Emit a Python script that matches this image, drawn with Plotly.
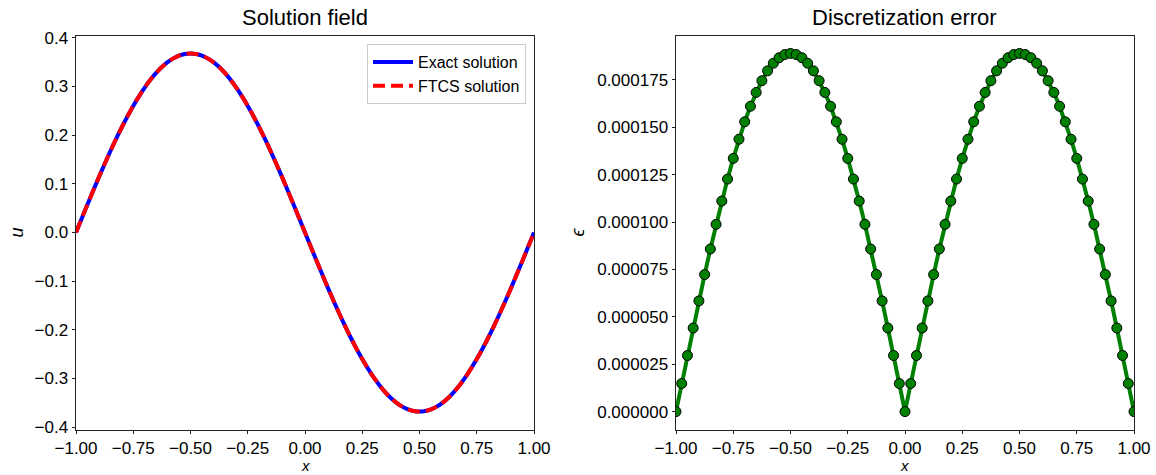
import plotly.graph_objects as go

# grid: x from -1 to 1 step 0.025 (81 points)
x_min, x_step, n_pts = -1.0, 0.025, 81
x_vals = [round(x_min + i * x_step, 3) for i in range(n_pts)]

# half-wave values (x=-1 .. 0)
u_half = [0.0, 0.0289, 0.0576, 0.0859, 0.1137, 0.1408, 0.1670, 0.1922, 0.2162, 0.2389,
          0.2601, 0.2797, 0.2976, 0.3137, 0.3278, 0.3399, 0.3499, 0.3577, 0.3634, 0.3668,
          0.3679, 0.3668, 0.3634, 0.3577, 0.3499, 0.3399, 0.3278, 0.3137, 0.2976, 0.2797,
          0.2601, 0.2389, 0.2162, 0.1922, 0.1670, 0.1408, 0.1137, 0.0859, 0.0576, 0.0289, 0.0]
u_exact = u_half + [-v for v in u_half[1:]]
u_ftcs = list(u_exact)

err_half = [0.0, 14.8, 29.6, 44.1, 58.4, 72.3, 85.8, 98.8, 111.1, 122.7,
            133.6, 143.7, 152.9, 161.1, 168.4, 174.6, 179.8, 183.8, 186.7, 188.4,
            189.0, 188.4, 186.7, 183.8, 179.8, 174.6, 168.4, 161.1, 152.9, 143.7,
            133.6, 122.7, 111.1, 98.8, 85.8, 72.3, 58.4, 44.1, 29.6, 14.8, 0.0]
err_1e6 = err_half + err_half[1:]
error = [v * 1e-6 for v in err_1e6]

left_ticks_x = [-1.0, -0.75, -0.5, -0.25, 0.0, 0.25, 0.5, 0.75, 1.0]
left_ticks_y = [-0.4, -0.3, -0.2, -0.1, 0.0, 0.1, 0.2, 0.3, 0.4]
right_ticks_y = [0.0, 0.000025, 0.00005, 0.000075, 0.0001, 0.000125, 0.00015, 0.000175]

FONT = "Liberation Sans, Arial, sans-serif"
W, H = 1156, 475
L1, R1, L2, R2 = 76, 534, 676, 1134
TOP, BOT = 35.5, 429.5

fig = go.Figure()
fig.add_trace(go.Scatter(x=x_vals, y=u_exact, mode="lines", name="Exact solution",
                         line=dict(color="blue", width=4, shape="spline"), xaxis="x", yaxis="y"))
fig.add_trace(go.Scatter(x=x_vals, y=u_ftcs, mode="lines", name="FTCS solution",
                         line=dict(color="red", width=4, dash="12px,6px", shape="spline"),
                         xaxis="x", yaxis="y"))
fig.add_trace(go.Scatter(x=x_vals, y=error, mode="lines+markers", showlegend=False,
                         line=dict(color="green", width=4),
                         marker=dict(color="green", size=10, line=dict(color="black", width=1)),
                         xaxis="x2", yaxis="y2"))

axis_common = dict(showgrid=False, zeroline=False, showline=True, mirror=True,
                   linecolor="#222", linewidth=1, ticks="outside", ticklen=3.5,
                   tickcolor="#222", automargin=False,
                   tickfont=dict(family=FONT, size=17, color="black"))

def px(xp, yp):
    return xp / W, (H - yp) / H

ydom = [(H - BOT) / H, (H - TOP) / H]

annos = []
for text, xc in [("Solution field", (L1 + R1) / 2),
                 ("Discretization error", (L2 + R2) / 2)]:
    annos.append(dict(text=text, x=xc / W, y=(H - TOP + 3) / H, xref="paper", yref="paper",
                      xanchor="center", yanchor="bottom", showarrow=False,
                      font=dict(family=FONT, size=22, color="black")))
for xc in [(L1 + R1) / 2, (L2 + R2) / 2]:
    annos.append(dict(text="<i>x</i>", x=xc / W, y=0, xref="paper", yref="paper",
                      xanchor="center", yanchor="bottom", showarrow=False, borderpad=0,
                      font=dict(family=FONT, size=15, color="black")))
for text, xp in [("<i>u</i>", 17), ("<i>ϵ</i>", 578)]:
    ax_, ay_ = px(xp, (TOP + BOT) / 2)
    annos.append(dict(text=text, x=ax_, y=ay_, xref="paper", yref="paper",
                      xanchor="center", yanchor="middle", showarrow=False, textangle=-90,
                      font=dict(family=FONT, size=18, color="black")))

fig.update_layout(
    width=W, height=H, margin=dict(l=0, r=0, t=0, b=0),
    plot_bgcolor="white", paper_bgcolor="white",
    font=dict(family=FONT, color="black"),
    xaxis=dict(domain=[L1 / W, R1 / W], range=[-1, 1], tickvals=left_ticks_x,
               tickformat=".2f", anchor="y", **axis_common),
    yaxis=dict(domain=ydom, range=[-0.4047, 0.4047], tickvals=left_ticks_y,
               tickformat=".1f", anchor="x", **axis_common),
    xaxis2=dict(domain=[L2 / W, R2 / W], range=[-1, 1], tickvals=left_ticks_x,
                tickformat=".2f", anchor="y2", **axis_common),
    yaxis2=dict(domain=ydom, range=[-9.45e-6, 198.45e-6], tickvals=right_ticks_y,
                tickformat=".6f", anchor="x2", **axis_common),
    legend=dict(x=(R1 - 8) / W, y=(H - 44) / H, xanchor="right", yanchor="top",
                bgcolor="rgba(255,255,255,0.8)", bordercolor="#cccccc", borderwidth=1,
                font=dict(family=FONT, size=16, color="black"),
                itemwidth=40, tracegroupgap=0),
    showlegend=True,
    annotations=annos,
)

fig.write_html("out.html", config={"displayModeBar": False},
               post_script="document.body.style.margin='0';")
